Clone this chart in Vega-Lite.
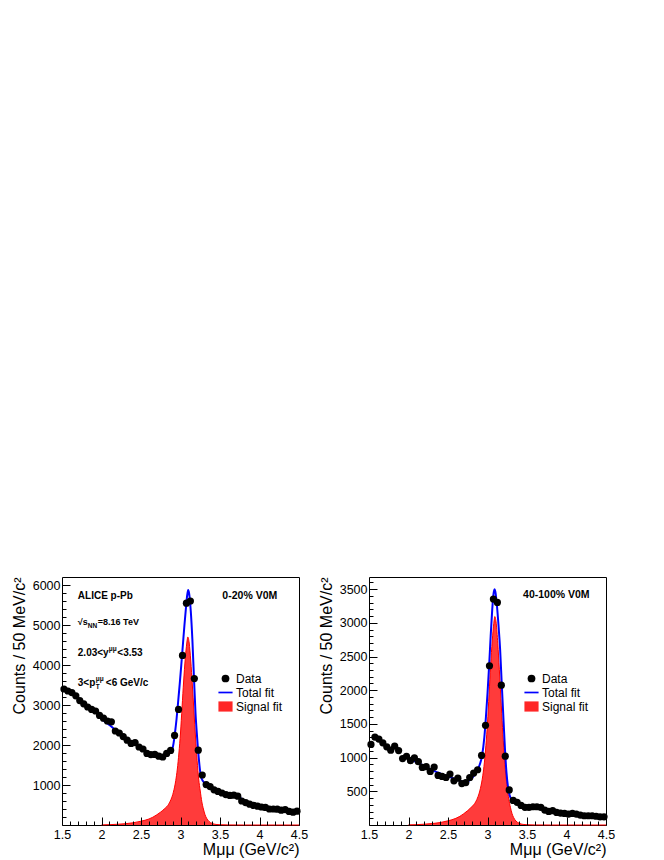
{
  "$schema": "https://vega.github.io/schema/vega-lite/v6.json",
  "padding": {"left": 10, "top": 576, "right": 0, "bottom": 0},
  "spacing": 8,
  "datasets": {
    "central": [
      {"m": 1.525, "counts": 3400}, {"m": 1.575, "counts": 3350}, {"m": 1.625, "counts": 3310}, {"m": 1.675, "counts": 3230},
      {"m": 1.725, "counts": 3110}, {"m": 1.775, "counts": 3030}, {"m": 1.825, "counts": 2950}, {"m": 1.875, "counts": 2890},
      {"m": 1.925, "counts": 2850}, {"m": 1.975, "counts": 2740}, {"m": 2.025, "counts": 2670}, {"m": 2.075, "counts": 2600},
      {"m": 2.125, "counts": 2580}, {"m": 2.175, "counts": 2350}, {"m": 2.225, "counts": 2300}, {"m": 2.275, "counts": 2210},
      {"m": 2.325, "counts": 2120}, {"m": 2.375, "counts": 2040}, {"m": 2.425, "counts": 2060}, {"m": 2.475, "counts": 1950},
      {"m": 2.525, "counts": 1900}, {"m": 2.575, "counts": 1790}, {"m": 2.625, "counts": 1760}, {"m": 2.675, "counts": 1765},
      {"m": 2.725, "counts": 1720}, {"m": 2.775, "counts": 1700}, {"m": 2.825, "counts": 1790}, {"m": 2.875, "counts": 1865},
      {"m": 2.925, "counts": 2240}, {"m": 2.975, "counts": 2890}, {"m": 3.025, "counts": 4240}, {"m": 3.075, "counts": 5545},
      {"m": 3.125, "counts": 5600}, {"m": 3.175, "counts": 3660}, {"m": 3.225, "counts": 1870}, {"m": 3.275, "counts": 1250},
      {"m": 3.325, "counts": 1010}, {"m": 3.375, "counts": 960}, {"m": 3.425, "counts": 880}, {"m": 3.475, "counts": 840},
      {"m": 3.525, "counts": 800}, {"m": 3.575, "counts": 760}, {"m": 3.625, "counts": 740}, {"m": 3.675, "counts": 745},
      {"m": 3.725, "counts": 720}, {"m": 3.775, "counts": 600}, {"m": 3.825, "counts": 560}, {"m": 3.875, "counts": 520},
      {"m": 3.925, "counts": 490}, {"m": 3.975, "counts": 470}, {"m": 4.025, "counts": 450}, {"m": 4.075, "counts": 440},
      {"m": 4.125, "counts": 400}, {"m": 4.175, "counts": 400}, {"m": 4.225, "counts": 395}, {"m": 4.275, "counts": 370},
      {"m": 4.325, "counts": 385}, {"m": 4.375, "counts": 340}, {"m": 4.425, "counts": 320}, {"m": 4.475, "counts": 345}
    ],
    "central_total": [
      {"m": 2.0, "counts": 2650}, {"m": 2.1, "counts": 2500}, {"m": 2.2, "counts": 2340}, {"m": 2.3, "counts": 2190},
      {"m": 2.4, "counts": 2050}, {"m": 2.5, "counts": 1920}, {"m": 2.6, "counts": 1800}, {"m": 2.65, "counts": 1750},
      {"m": 2.7, "counts": 1715}, {"m": 2.75, "counts": 1705}, {"m": 2.8, "counts": 1740}, {"m": 2.85, "counts": 1810},
      {"m": 2.9, "counts": 1930}, {"m": 2.93, "counts": 2300}, {"m": 2.95, "counts": 2650}, {"m": 2.97, "counts": 3080},
      {"m": 2.99, "counts": 3520}, {"m": 3.01, "counts": 4000}, {"m": 3.03, "counts": 4500}, {"m": 3.05, "counts": 5000},
      {"m": 3.07, "counts": 5450}, {"m": 3.085, "counts": 5750}, {"m": 3.097, "counts": 5875}, {"m": 3.11, "counts": 5780},
      {"m": 3.13, "counts": 5350}, {"m": 3.15, "counts": 4650}, {"m": 3.17, "counts": 3700}, {"m": 3.19, "counts": 2800},
      {"m": 3.21, "counts": 2200}, {"m": 3.23, "counts": 1700}, {"m": 3.25, "counts": 1320}, {"m": 3.27, "counts": 1150},
      {"m": 3.3, "counts": 1060}, {"m": 3.35, "counts": 965}, {"m": 3.4, "counts": 900}, {"m": 3.5, "counts": 815},
      {"m": 3.6, "counts": 760}, {"m": 3.65, "counts": 750}, {"m": 3.7, "counts": 735}, {"m": 3.75, "counts": 685},
      {"m": 3.8, "counts": 620}, {"m": 3.85, "counts": 565}, {"m": 3.9, "counts": 525}, {"m": 4.0, "counts": 470},
      {"m": 4.1, "counts": 430}, {"m": 4.2, "counts": 395}, {"m": 4.3, "counts": 360}, {"m": 4.4, "counts": 330},
      {"m": 4.5, "counts": 302}
    ],
    "central_signal": [
      {"m": 2.0, "counts": 3}, {"m": 2.1, "counts": 8}, {"m": 2.2, "counts": 18}, {"m": 2.3, "counts": 32},
      {"m": 2.4, "counts": 55}, {"m": 2.5, "counts": 95}, {"m": 2.6, "counts": 150}, {"m": 2.65, "counts": 195},
      {"m": 2.7, "counts": 255}, {"m": 2.75, "counts": 325}, {"m": 2.8, "counts": 410}, {"m": 2.85, "counts": 520},
      {"m": 2.88, "counts": 640}, {"m": 2.91, "counts": 820}, {"m": 2.94, "counts": 1110}, {"m": 2.96, "counts": 1400},
      {"m": 2.98, "counts": 1800}, {"m": 3.0, "counts": 2300}, {"m": 3.02, "counts": 2950}, {"m": 3.04, "counts": 3600},
      {"m": 3.06, "counts": 4150}, {"m": 3.08, "counts": 4550}, {"m": 3.093, "counts": 4700}, {"m": 3.11, "counts": 4550},
      {"m": 3.13, "counts": 4100}, {"m": 3.15, "counts": 3500}, {"m": 3.17, "counts": 2850}, {"m": 3.19, "counts": 2200},
      {"m": 3.21, "counts": 1620}, {"m": 3.23, "counts": 1150}, {"m": 3.25, "counts": 850}, {"m": 3.27, "counts": 580},
      {"m": 3.29, "counts": 400}, {"m": 3.31, "counts": 260}, {"m": 3.33, "counts": 170}, {"m": 3.36, "counts": 90},
      {"m": 3.4, "counts": 40}, {"m": 3.45, "counts": 14}, {"m": 3.5, "counts": 6}, {"m": 3.6, "counts": 2},
      {"m": 3.8, "counts": 0}, {"m": 4.5, "counts": 0}
    ],
    "periph": [
      {"m": 1.525, "counts": 1196}, {"m": 1.575, "counts": 1305}, {"m": 1.625, "counts": 1275}, {"m": 1.675, "counts": 1220},
      {"m": 1.725, "counts": 1160}, {"m": 1.775, "counts": 1110}, {"m": 1.825, "counts": 1170}, {"m": 1.875, "counts": 1105},
      {"m": 1.925, "counts": 985}, {"m": 1.975, "counts": 1020}, {"m": 2.025, "counts": 955}, {"m": 2.075, "counts": 995},
      {"m": 2.125, "counts": 940}, {"m": 2.175, "counts": 855}, {"m": 2.225, "counts": 865}, {"m": 2.275, "counts": 795},
      {"m": 2.325, "counts": 860}, {"m": 2.375, "counts": 735}, {"m": 2.425, "counts": 720}, {"m": 2.475, "counts": 705},
      {"m": 2.525, "counts": 755}, {"m": 2.575, "counts": 655}, {"m": 2.625, "counts": 695}, {"m": 2.675, "counts": 615},
      {"m": 2.725, "counts": 630}, {"m": 2.775, "counts": 705}, {"m": 2.825, "counts": 770}, {"m": 2.875, "counts": 820},
      {"m": 2.925, "counts": 1032}, {"m": 2.975, "counts": 1479}, {"m": 3.025, "counts": 2363}, {"m": 3.075, "counts": 3352},
      {"m": 3.125, "counts": 3302}, {"m": 3.175, "counts": 2075}, {"m": 3.225, "counts": 1022}, {"m": 3.275, "counts": 520},
      {"m": 3.325, "counts": 365}, {"m": 3.375, "counts": 336}, {"m": 3.425, "counts": 290}, {"m": 3.475, "counts": 262},
      {"m": 3.525, "counts": 262}, {"m": 3.575, "counts": 271}, {"m": 3.625, "counts": 271}, {"m": 3.675, "counts": 262},
      {"m": 3.725, "counts": 222}, {"m": 3.775, "counts": 202}, {"m": 3.825, "counts": 212}, {"m": 3.875, "counts": 187},
      {"m": 3.925, "counts": 177}, {"m": 3.975, "counts": 172}, {"m": 4.025, "counts": 162}, {"m": 4.075, "counts": 172},
      {"m": 4.125, "counts": 162}, {"m": 4.175, "counts": 147}, {"m": 4.225, "counts": 137}, {"m": 4.275, "counts": 137},
      {"m": 4.325, "counts": 137}, {"m": 4.375, "counts": 130}, {"m": 4.425, "counts": 122}, {"m": 4.475, "counts": 122}
    ],
    "periph_total": [
      {"m": 2.0, "counts": 985}, {"m": 2.1, "counts": 935}, {"m": 2.2, "counts": 875}, {"m": 2.3, "counts": 815},
      {"m": 2.4, "counts": 765}, {"m": 2.5, "counts": 720}, {"m": 2.6, "counts": 680}, {"m": 2.65, "counts": 655},
      {"m": 2.7, "counts": 642}, {"m": 2.75, "counts": 650}, {"m": 2.8, "counts": 690}, {"m": 2.85, "counts": 770},
      {"m": 2.9, "counts": 890}, {"m": 2.93, "counts": 1020}, {"m": 2.96, "counts": 1300}, {"m": 2.98, "counts": 1600},
      {"m": 3.0, "counts": 1950}, {"m": 3.02, "counts": 2350}, {"m": 3.04, "counts": 2800}, {"m": 3.06, "counts": 3200},
      {"m": 3.075, "counts": 3420}, {"m": 3.089, "counts": 3500}, {"m": 3.1, "counts": 3460}, {"m": 3.12, "counts": 3250},
      {"m": 3.14, "counts": 2950}, {"m": 3.16, "counts": 2600}, {"m": 3.18, "counts": 2100}, {"m": 3.2, "counts": 1620},
      {"m": 3.22, "counts": 1150}, {"m": 3.24, "counts": 780}, {"m": 3.26, "counts": 560}, {"m": 3.28, "counts": 440},
      {"m": 3.31, "counts": 370}, {"m": 3.35, "counts": 330}, {"m": 3.4, "counts": 300}, {"m": 3.5, "counts": 275},
      {"m": 3.6, "counts": 265}, {"m": 3.65, "counts": 265}, {"m": 3.7, "counts": 255}, {"m": 3.75, "counts": 230},
      {"m": 3.8, "counts": 205}, {"m": 3.9, "counts": 180}, {"m": 4.0, "counts": 162}, {"m": 4.1, "counts": 150},
      {"m": 4.2, "counts": 140}, {"m": 4.3, "counts": 130}, {"m": 4.4, "counts": 120}, {"m": 4.5, "counts": 112}
    ],
    "periph_signal": [
      {"m": 2.0, "counts": 2}, {"m": 2.1, "counts": 5}, {"m": 2.2, "counts": 12}, {"m": 2.3, "counts": 21},
      {"m": 2.4, "counts": 36}, {"m": 2.5, "counts": 62}, {"m": 2.6, "counts": 99}, {"m": 2.65, "counts": 128},
      {"m": 2.7, "counts": 168}, {"m": 2.75, "counts": 214}, {"m": 2.8, "counts": 270}, {"m": 2.85, "counts": 342},
      {"m": 2.88, "counts": 421}, {"m": 2.91, "counts": 540}, {"m": 2.94, "counts": 730}, {"m": 2.96, "counts": 921},
      {"m": 2.98, "counts": 1184}, {"m": 3.0, "counts": 1513}, {"m": 3.02, "counts": 1941}, {"m": 3.04, "counts": 2369},
      {"m": 3.06, "counts": 2731}, {"m": 3.08, "counts": 2994}, {"m": 3.093, "counts": 3093}, {"m": 3.11, "counts": 2994},
      {"m": 3.13, "counts": 2698}, {"m": 3.15, "counts": 2303}, {"m": 3.17, "counts": 1875}, {"m": 3.19, "counts": 1448},
      {"m": 3.21, "counts": 1066}, {"m": 3.23, "counts": 757}, {"m": 3.25, "counts": 559}, {"m": 3.27, "counts": 382},
      {"m": 3.29, "counts": 263}, {"m": 3.31, "counts": 171}, {"m": 3.33, "counts": 112}, {"m": 3.36, "counts": 59},
      {"m": 3.4, "counts": 26}, {"m": 3.45, "counts": 9}, {"m": 3.5, "counts": 4}, {"m": 3.6, "counts": 1},
      {"m": 3.8, "counts": 0}, {"m": 4.5, "counts": 0}
    ]
  },
  "hconcat": [
    {
      "width": 237,
      "height": 248,
      "resolve": {"axis": {"x": "independent", "y": "independent"}},
      "layer": [
        {
          "data": {"name": "central_signal"},
          "mark": {"type": "area", "color": "#ff2626", "opacity": 0.9, "interpolate": "monotone", "line": {"color": "#ff0000", "strokeWidth": 1}},
          "encoding": {
            "x": {"field": "m", "type": "quantitative", "scale": {"domain": [1.5, 4.5], "nice": false, "zero": false},
              "axis": {"orient": "bottom", "values": [1.6, 1.7, 1.8, 1.9, 2.1, 2.2, 2.3, 2.4, 2.6, 2.7, 2.8, 2.9, 3.1, 3.2, 3.3, 3.4, 3.6, 3.7, 3.8, 3.9, 4.1, 4.2, 4.3, 4.4], "tickSize": -4, "labels": false, "title": null, "zindex": 1}},
            "y": {"field": "counts", "type": "quantitative", "scale": {"domain": [0, 6200], "nice": false},
              "axis": {"orient": "left", "values": [200, 400, 600, 800, 1200, 1400, 1600, 1800, 2200, 2400, 2600, 2800, 3200, 3400, 3600, 3800, 4200, 4400, 4600, 4800, 5200, 5400, 5600, 5800], "tickSize": -4, "labels": false, "title": null, "zindex": 1}}
          }
        },
        {
          "data": {"name": "central_total"},
          "mark": {"type": "line", "color": "#0000ff", "strokeWidth": 2, "interpolate": "monotone"},
          "encoding": {
            "x": {"field": "m", "type": "quantitative", "scale": {"domain": [1.5, 4.5], "nice": false, "zero": false}, "axis": null},
            "y": {"field": "counts", "type": "quantitative", "scale": {"domain": [0, 6200], "nice": false}, "axis": null}
          }
        },
        {
          "data": {"name": "central"},
          "mark": {"type": "point", "filled": true, "size": 52, "opacity": 1, "strokeWidth": 0},
          "encoding": {
            "x": {"field": "m", "type": "quantitative", "scale": {"domain": [1.5, 4.5], "nice": false, "zero": false},
              "axis": {"orient": "bottom", "values": [1.5, 2, 2.5, 3, 3.5, 4, 4.5], "format": "~g", "tickSize": -8, "labelPadding": 11, "title": "Mμμ (GeV/c²)", "titleAnchor": "end", "titlePadding": 1, "zindex": 1}},
            "y": {"field": "counts", "type": "quantitative", "scale": {"domain": [0, 6200], "nice": false},
              "axis": {"orient": "left", "values": [1000, 2000, 3000, 4000, 5000, 6000], "format": "d", "tickSize": -8, "labelPadding": 10, "title": "Counts / 50 MeV/c²", "titleAnchor": "end", "titlePadding": 5, "zindex": 1}},
            "color": {"datum": "Data", "scale": {"domain": ["Data", "Total fit", "Signal fit"], "range": ["black", "#0000ff", "#ff2626"]},
              "legend": {"title": null, "orient": "none", "legendX": 156, "legendY": 94, "padding": 0, "rowPadding": 0, "labelOffset": 3, "labelFontSize": 12, "labelFont": "Liberation Sans", "labelColor": "black", "symbolSize": 200, "symbolStrokeWidth": 0, "symbolOpacity": 1,
                "encode": {"symbols": {"update": {"size": {"signal": "datum.value === 'Data' ? 60 : 200"}}}}}},
            "shape": {"datum": "Data", "scale": {"domain": ["Data", "Total fit", "Signal fit"], "range": ["circle", "M-1,-0.12L1,-0.12L1,0.12L-1,0.12Z", "M-1,-0.72L1,-0.72L1,0.72L-1,0.72Z"]}}
          }
        },
        {"data": {"values": [{}]}, "mark": {"type": "text", "text": "ALICE p-Pb", "fontSize": 10},
          "encoding": {"x": {"datum": 1.7, "type": "quantitative", "axis": null}, "y": {"datum": 5650, "type": "quantitative", "axis": null}}},
        {"data": {"values": [{}]}, "mark": {"type": "text", "text": "√s"},
          "encoding": {"x": {"datum": 1.7, "type": "quantitative", "axis": null}, "y": {"datum": 5000, "type": "quantitative", "axis": null}}},
        {"data": {"values": [{}]}, "mark": {"type": "text", "text": "NN", "fontSize": 6.5, "dx": 10, "dy": 2.5},
          "encoding": {"x": {"datum": 1.7, "type": "quantitative", "axis": null}, "y": {"datum": 5000, "type": "quantitative", "axis": null}}},
        {"data": {"values": [{}]}, "mark": {"type": "text", "text": "=8.16 TeV", "dx": 20},
          "encoding": {"x": {"datum": 1.7, "type": "quantitative", "axis": null}, "y": {"datum": 5000, "type": "quantitative", "axis": null}}},
        {"data": {"values": [{}]}, "mark": {"type": "text", "text": "2.03<y", "fontSize": 10},
          "encoding": {"x": {"datum": 1.7, "type": "quantitative", "axis": null}, "y": {"datum": 4232, "type": "quantitative", "axis": null}}},
        {"data": {"values": [{}]}, "mark": {"type": "text", "text": "μμ", "fontSize": 6.5, "dx": 31, "dy": -4.5},
          "encoding": {"x": {"datum": 1.7, "type": "quantitative", "axis": null}, "y": {"datum": 4232, "type": "quantitative", "axis": null}}},
        {"data": {"values": [{}]}, "mark": {"type": "text", "text": "<3.53", "fontSize": 10, "dx": 39.5},
          "encoding": {"x": {"datum": 1.7, "type": "quantitative", "axis": null}, "y": {"datum": 4232, "type": "quantitative", "axis": null}}},
        {"data": {"values": [{}]}, "mark": {"type": "text", "text": "3<p", "fontSize": 10},
          "encoding": {"x": {"datum": 1.7, "type": "quantitative", "axis": null}, "y": {"datum": 3482, "type": "quantitative", "axis": null}}},
        {"data": {"values": [{}]}, "mark": {"type": "text", "text": "T", "fontSize": 6.5, "dx": 18, "dy": 3},
          "encoding": {"x": {"datum": 1.7, "type": "quantitative", "axis": null}, "y": {"datum": 3482, "type": "quantitative", "axis": null}}},
        {"data": {"values": [{}]}, "mark": {"type": "text", "text": "μμ", "fontSize": 6.5, "dx": 18, "dy": -5},
          "encoding": {"x": {"datum": 1.7, "type": "quantitative", "axis": null}, "y": {"datum": 3482, "type": "quantitative", "axis": null}}},
        {"data": {"values": [{}]}, "mark": {"type": "text", "text": "<6 GeV/c", "fontSize": 10, "dx": 28},
          "encoding": {"x": {"datum": 1.7, "type": "quantitative", "axis": null}, "y": {"datum": 3482, "type": "quantitative", "axis": null}}},
        {"data": {"values": [{}]}, "mark": {"type": "text", "text": "0-20% V0M", "fontSize": 10.5},
          "encoding": {"x": {"datum": 3.53, "type": "quantitative", "axis": null}, "y": {"datum": 5650, "type": "quantitative", "axis": null}}}
      ]
    },
    {
      "width": 237,
      "height": 248,
      "resolve": {"axis": {"x": "independent", "y": "independent"}},
      "layer": [
        {
          "data": {"name": "periph_signal"},
          "mark": {"type": "area", "color": "#ff2626", "opacity": 0.9, "interpolate": "monotone", "line": {"color": "#ff0000", "strokeWidth": 1}},
          "encoding": {
            "x": {"field": "m", "type": "quantitative", "scale": {"domain": [1.5, 4.5], "nice": false, "zero": false},
              "axis": {"orient": "bottom", "values": [1.6, 1.7, 1.8, 1.9, 2.1, 2.2, 2.3, 2.4, 2.6, 2.7, 2.8, 2.9, 3.1, 3.2, 3.3, 3.4, 3.6, 3.7, 3.8, 3.9, 4.1, 4.2, 4.3, 4.4], "tickSize": -4, "labels": false, "title": null, "zindex": 1}},
            "y": {"field": "counts", "type": "quantitative", "scale": {"domain": [0, 3680], "nice": false},
              "axis": {"orient": "left", "values": [100, 200, 300, 400, 600, 700, 800, 900, 1100, 1200, 1300, 1400, 1600, 1700, 1800, 1900, 2100, 2200, 2300, 2400, 2600, 2700, 2800, 2900, 3100, 3200, 3300, 3400, 3600], "tickSize": -4, "labels": false, "title": null, "zindex": 1}}
          }
        },
        {
          "data": {"name": "periph_total"},
          "mark": {"type": "line", "color": "#0000ff", "strokeWidth": 2, "interpolate": "monotone"},
          "encoding": {
            "x": {"field": "m", "type": "quantitative", "scale": {"domain": [1.5, 4.5], "nice": false, "zero": false}, "axis": null},
            "y": {"field": "counts", "type": "quantitative", "scale": {"domain": [0, 3680], "nice": false}, "axis": null}
          }
        },
        {
          "data": {"name": "periph"},
          "mark": {"type": "point", "filled": true, "size": 52, "opacity": 1, "strokeWidth": 0},
          "encoding": {
            "x": {"field": "m", "type": "quantitative", "scale": {"domain": [1.5, 4.5], "nice": false, "zero": false},
              "axis": {"orient": "bottom", "values": [1.5, 2, 2.5, 3, 3.5, 4, 4.5], "format": "~g", "tickSize": -8, "labelPadding": 11, "title": "Mμμ (GeV/c²)", "titleAnchor": "end", "titlePadding": 1, "zindex": 1}},
            "y": {"field": "counts", "type": "quantitative", "scale": {"domain": [0, 3680], "nice": false},
              "axis": {"orient": "left", "values": [500, 1000, 1500, 2000, 2500, 3000, 3500], "format": "d", "tickSize": -8, "labelPadding": 10, "title": "Counts / 50 MeV/c²", "titleAnchor": "end", "titlePadding": 5, "zindex": 1}},
            "color": {"datum": "Data", "scale": {"domain": ["Data", "Total fit", "Signal fit"], "range": ["black", "#0000ff", "#ff2626"]},
              "legend": {"title": null, "orient": "none", "legendX": 155, "legendY": 94, "padding": 0, "rowPadding": 0, "labelOffset": 3, "labelFontSize": 12, "labelFont": "Liberation Sans", "labelColor": "black", "symbolSize": 200, "symbolStrokeWidth": 0, "symbolOpacity": 1,
                "encode": {"symbols": {"update": {"size": {"signal": "datum.value === 'Data' ? 60 : 200"}}}}}},
            "shape": {"datum": "Data", "scale": {"domain": ["Data", "Total fit", "Signal fit"], "range": ["circle", "M-1,-0.12L1,-0.12L1,0.12L-1,0.12Z", "M-1,-0.72L1,-0.72L1,0.72L-1,0.72Z"]}}
          }
        },
        {"data": {"values": [{}]}, "mark": {"type": "text", "text": "40-100% V0M", "fontSize": 10.5},
          "encoding": {"x": {"datum": 3.45, "type": "quantitative", "axis": null}, "y": {"datum": 3363, "type": "quantitative", "axis": null}}}
      ]
    }
  ],
  "resolve": {"scale": {"color": "independent", "shape": "independent"}, "legend": {"color": "independent", "shape": "independent"}},
  "config": {
    "font": "Liberation Sans",
    "background": "white",
    "view": {"stroke": "black", "strokeWidth": 1},
    "axis": {"grid": false, "domain": false, "tickColor": "black", "tickWidth": 1, "labelColor": "black", "labelFont": "Liberation Sans", "labelFontSize": 12.5, "labelFlush": false, "labelOverlap": false, "titleFont": "Liberation Sans", "titleFontSize": 16, "titleFontWeight": "normal", "titleColor": "black"},
    "text": {"font": "Liberation Sans", "fontWeight": "bold", "fontSize": 9, "align": "left", "baseline": "alphabetic", "color": "black"}
  }
}
